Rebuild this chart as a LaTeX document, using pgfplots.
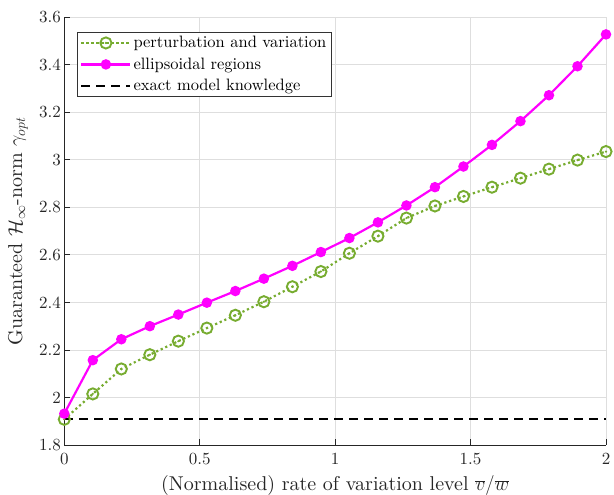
\RequirePackage{fix-cm}
\documentclass[border=0pt]{standalone}
\usepackage{fontspec}
\setmainfont{lmroman10-regular.otf}[ItalicFont=lmroman10-italic.otf, BoldFont=lmroman10-bold.otf]
\usepackage{pgfplots}
\pgfplotsset{compat=1.18}
\definecolor{mgreen}{rgb}{0.466,0.674,0.188}
\definecolor{mag}{rgb}{1,0,1}
\definecolor{gridgray}{gray}{0.87}
\definecolor{axgray}{gray}{0.15}
\pgfdeclareplotmark{odot}{%
  \pgfpathcircle{\pgfpoint{0pt}{0pt}}{\pgfplotmarksize}\pgfusepathqstroke
  \pgfpathcircle{\pgfpoint{0pt}{0pt}}{0.22\pgfplotmarksize}\pgfusepathqfill}
\pgfplotstableread{
x        m      g
0        1.932  1.908
0.10526  2.157  2.015
0.21053  2.245  2.120
0.31579  2.300  2.180
0.42105  2.349  2.237
0.52632  2.399  2.292
0.63158  2.448  2.346
0.73684  2.500  2.403
0.84211  2.554  2.466
0.94737  2.612  2.530
1.05263  2.671  2.607
1.15789  2.737  2.679
1.26316  2.808  2.755
1.36842  2.885  2.806
1.47368  2.972  2.846
1.57895  3.063  2.885
1.68421  3.163  2.923
1.78947  3.272  2.961
1.89474  3.394  2.999
2        3.528  3.035
}\datatable
\begin{document}
\begin{tikzpicture}
\path[use as bounding box] (-64.3pt,-50pt) rectangle (549.7pt,445pt);
\begin{axis}[
  at={(0pt,0pt)}, anchor=south west,
  scale only axis, width=541.7pt, height=427.7pt,
  xmin=0, xmax=2, ymin=1.8, ymax=3.6,
  xtick={0,0.5,1,1.5,2},
  ytick={1.8,2,2.2,2.4,2.6,2.8,3,3.2,3.4,3.6},
  /pgf/number format/assume math mode=true,
  axis x line*=bottom, axis y line*=left,
  axis line style={-, draw=axgray, line width=0.9pt},
  tick align=inside, major tick length=6pt,
  tick style={draw=axgray, line width=0.9pt},
  grid=major, major grid style={draw=gridgray, line width=0.9pt},
  ticklabel style={font=\fontsize{17}{20}\selectfont, text=axgray},
  xticklabel style={yshift=-5pt},
  xlabel={(Normalised) rate of variation level $\overline{v}/\overline{w}$},
  ylabel={Guaranteed $\mathcal{H}_\infty$-norm $\gamma_{opt}$},
  every axis x label/.style={at={(axis description cs:0.5,-0.1075)}, anchor=base, font=\fontsize{20}{24}\selectfont, text=axgray},
  every axis y label/.style={at={(axis description cs:-0.0855,0.5)}, rotate=90, anchor=center, font=\fontsize{20}{24}\selectfont, text=axgray},
  legend style={at={(axis description cs:0.0232,0.9667)}, anchor=north west,
    font=\fontsize{16.5}{19}\selectfont, draw=black!80, line width=0.9pt,
    inner xsep=3pt, inner ysep=2.5pt, row sep=4.5pt, cells={anchor=west}},
  legend cell align=left,
  legend image code/.code={\draw[mark repeat=2,mark phase=2,#1] plot coordinates {(0pt,0pt)(24.5pt,0pt)(49pt,0pt)};},
]
\addplot[mgreen, line width=2.2pt, dash pattern=on 2.2pt off 2.8pt, mark=odot, mark size=5.6pt, mark options={solid, line width=1.9pt}]
  table[x=x, y=g] {\datatable};
\addlegendentry{perturbation and variation}
\addplot[mag, line width=2.2pt, mark=*, mark size=4.1pt, mark options={solid}]
  table[x=x, y=m] {\datatable};
\addlegendentry{ellipsoidal regions}
\addplot[black, line width=2pt, dash pattern=on 9pt off 6pt] coordinates {(0,1.908) (2,1.908)};
\addlegendentry{exact model knowledge}
\end{axis}
\end{tikzpicture}
\end{document}
